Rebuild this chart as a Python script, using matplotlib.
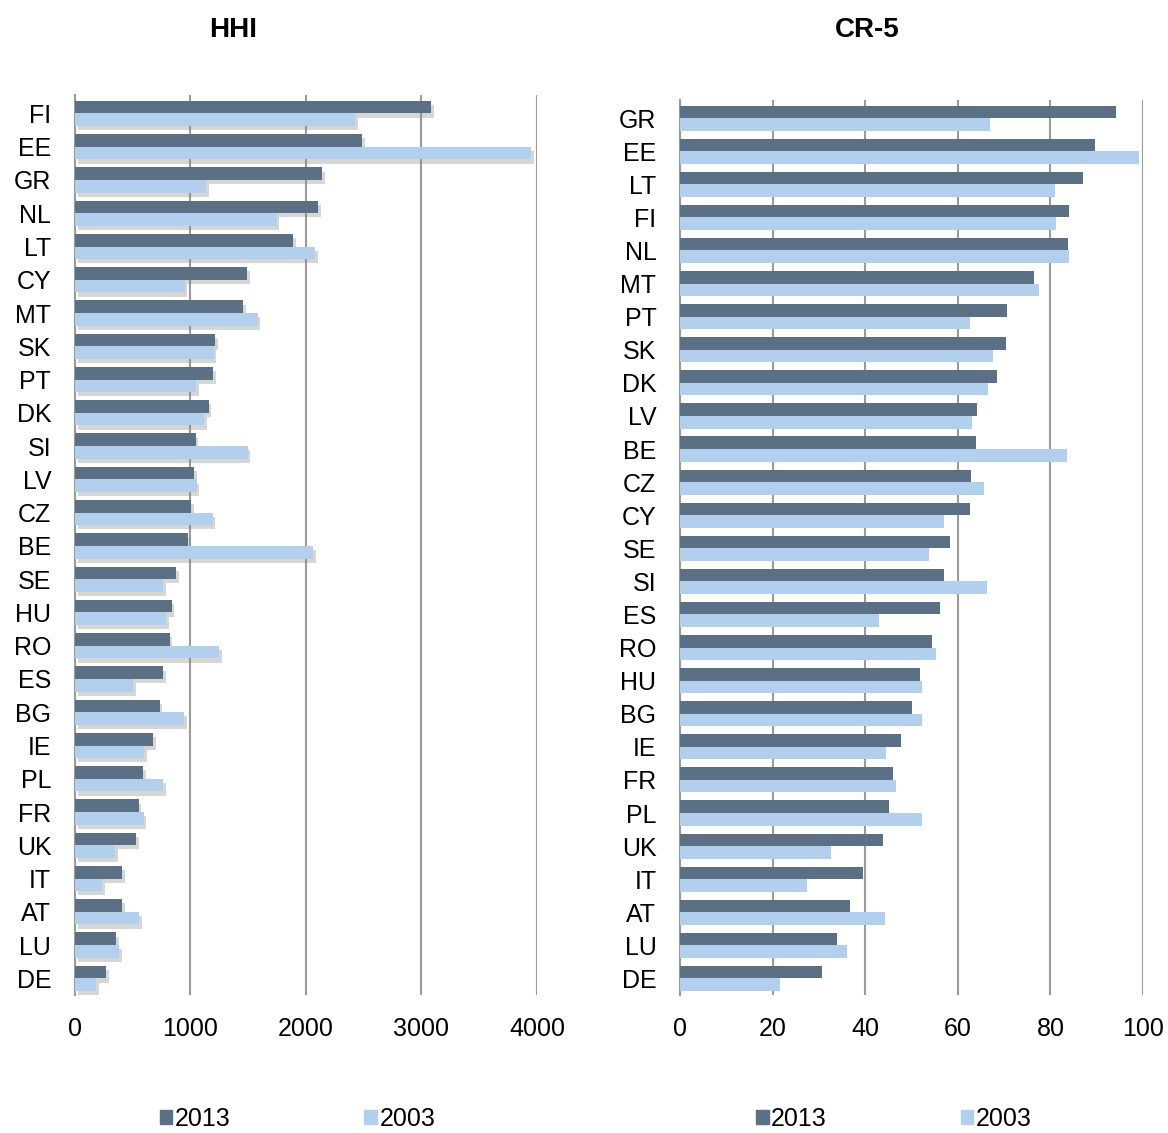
import numpy as np
import matplotlib.pyplot as plt
from matplotlib.patches import Patch
import matplotlib.patheffects as pe

plt.rcParams['font.family'] = ['Liberation Sans', 'DejaVu Sans']

# --- data (top to bottom) ---
hhi_countries = ["FI", "EE", "GR", "NL", "LT", "CY", "MT", "SK", "PT", "DK", "SI", "LV", "CZ", "BE",
                 "SE", "HU", "RO", "ES", "BG", "IE", "PL", "FR", "UK", "IT", "AT", "LU", "DE"]
hhi_2013 = [3085, 2487, 2140, 2102, 1891, 1488, 1457, 1215, 1197, 1157, 1045, 1033, 1008, 977,
            877, 837, 819, 762, 733, 678, 588, 550, 527, 408, 408, 354, 267]
hhi_2003 = [2425, 3947, 1138, 1746, 2078, 949, 1581, 1200, 1048, 1116, 1495, 1054, 1191, 2062,
            763, 788, 1247, 505, 945, 601, 762, 595, 350, 238, 553, 379, 180]

cr5_countries = ["GR", "EE", "LT", "FI", "NL", "MT", "PT", "SK", "DK", "LV", "BE", "CZ", "CY", "SE",
                 "SI", "ES", "RO", "HU", "BG", "IE", "FR", "PL", "UK", "IT", "AT", "LU", "DE"]
cr5_2013 = [94.1, 89.7, 87.1, 84.1, 83.8, 76.4, 70.6, 70.4, 68.4, 64.1, 64.0, 62.8, 62.6, 58.3,
            57.0, 56.1, 54.4, 51.8, 50.0, 47.8, 45.9, 45.2, 43.8, 39.5, 36.8, 33.8, 30.6]
cr5_2003 = [66.9, 99.2, 81.0, 81.2, 84.1, 77.6, 62.7, 67.5, 66.6, 63.1, 83.5, 65.7, 57.1, 53.8,
            66.4, 43.0, 55.2, 52.2, 52.3, 44.4, 46.7, 52.2, 32.7, 27.4, 44.3, 36.1, 21.6]

C_2013 = '#5b6f85'
C_2003 = '#b2d0ee'
GRID = '#9a9a9a'


def draw_panel(ax, countries, v13, v03, xmax, xstep, shadow, leg_x):
    n = len(countries)
    y = np.arange(n)[::-1]
    h = 0.38
    b1 = ax.barh(y + h / 2, v13, height=h, color=C_2013, zorder=3)
    b2 = ax.barh(y - h / 2, v03, height=h, color=C_2003, zorder=3)
    if shadow:
        # soft drop shadow like the original spreadsheet chart
        for b in list(b1) + list(b2):
            b.set_path_effects([pe.SimplePatchShadow(offset=(2, -3), shadow_rgbFace='#8a8a8a', alpha=0.35),
                                pe.Normal()])
    ax.set_xlim(0, xmax)
    ax.set_ylim(-0.5, n - 0.45)
    ax.set_xticks(np.arange(0, xmax + 1, xstep))
    ax.set_yticks(y)
    ax.set_yticklabels(countries)
    ax.tick_params(axis='both', length=0, labelsize=18)
    ax.tick_params(axis='y', pad=17)
    ax.tick_params(axis='x', pad=16)
    ax.xaxis.grid(True, color=GRID, linewidth=1.5, zorder=0)
    ax.set_axisbelow(True)
    for s in ['top', 'right', 'bottom']:
        ax.spines[s].set_visible(False)
    ax.spines['left'].set_color(GRID)
    ax.spines['left'].set_linewidth(1.5)

    handles = [Patch(color=C_2013, label='2013'), Patch(color=C_2003, label='2003')]
    ax.legend(handles=handles, loc='center', bbox_to_anchor=(leg_x, -0.138), ncol=2, frameon=False,
              fontsize=18, handlelength=0.5, handleheight=0.5, handletextpad=0.1, columnspacing=5.35,
              borderpad=0.1)


fig = plt.figure(figsize=(11.68, 11.33), dpi=100)
ax1 = fig.add_axes([0.0642, 0.1218, 0.3955, 0.7942])
ax2 = fig.add_axes([0.5822, 0.1218, 0.3964, 0.7900])

draw_panel(ax1, hhi_countries, hhi_2013, hhi_2003, 4000, 1000, True, 0.482)
draw_panel(ax2, cr5_countries, cr5_2013, cr5_2003, 100, 20, False, 0.462)

fig.text(233 / 1168, 1 - 30 / 1133, "HHI", fontsize=20, fontweight='bold', ha='center', va='center')
fig.text(867 / 1168, 1 - 30 / 1133, "CR-5", fontsize=20, fontweight='bold', ha='center', va='center')

fig.savefig("out.png", dpi=100, facecolor='white')
